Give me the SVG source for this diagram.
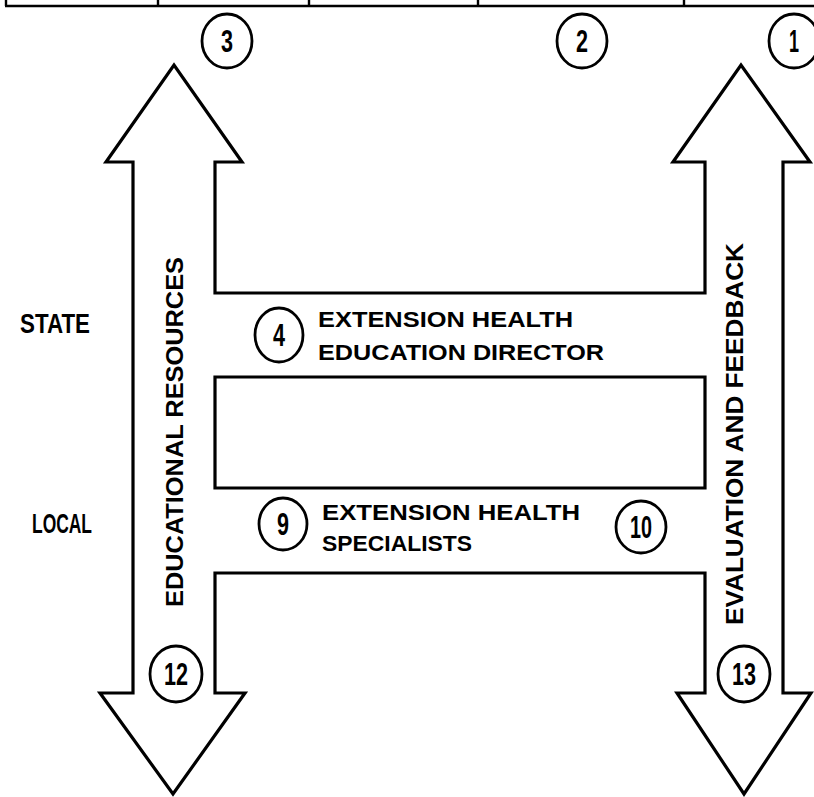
<svg xmlns="http://www.w3.org/2000/svg" width="814" height="797" viewBox="0 0 814 797">
<style>
.ln{fill:none;stroke:#000;stroke-width:3.2;stroke-linejoin:miter}
.top{fill:none;stroke:#000;stroke-width:2.4}
.cir{fill:none;stroke:#000;stroke-width:2.8}
.num{font-family:"Liberation Sans",Arial,sans-serif;font-weight:bold;font-size:31px;fill:#000;text-anchor:middle}
.lbl{font-family:"Liberation Sans",Arial,sans-serif;font-weight:bold;font-size:22px;fill:#000}
.big{font-family:"Liberation Sans",Arial,sans-serif;font-weight:bold;font-size:27px;fill:#000}
.vt{font-family:"Liberation Sans",Arial,sans-serif;font-weight:bold;font-size:24px;fill:#000}
</style>
<rect width="814" height="797" fill="#fff"/>
<g id="connectors">
<path class="top" d="M5,6 H814 M6,0 V6 M158,0 V6 M309,0 V6 M478,0 V6 M684,0 V6"/>
<path class="ln" d="M242,162 H215 V293 H705 V162 H673 L741,65 L810,162 H783 V693 H811 L744,794 L677,693 H705 V573 H215 V693 H245 L173,794 L100,693 H133 V162 H106 L174,65 Z"/>
<path class="ln" d="M215,377 H705 V488 H215 Z"/>
</g>
<g id="n1"><ellipse class="cir" cx="794" cy="41" rx="25" ry="27"/><text class="num" x="794" y="52" textLength="10" lengthAdjust="spacingAndGlyphs">1</text></g>
<g id="n2"><ellipse class="cir" cx="582" cy="41" rx="25" ry="27"/><text class="num" x="582" y="52" textLength="12" lengthAdjust="spacingAndGlyphs">2</text></g>
<g id="n3"><ellipse class="cir" cx="227" cy="41" rx="25" ry="27"/><text class="num" x="227" y="52" textLength="12" lengthAdjust="spacingAndGlyphs">3</text></g>
<g id="n4"><ellipse class="cir" cx="279" cy="335" rx="24" ry="27"/><text class="num" x="279" y="346" textLength="12" lengthAdjust="spacingAndGlyphs">4</text>
<text class="lbl" x="318" y="327" textLength="255" lengthAdjust="spacingAndGlyphs">EXTENSION HEALTH</text>
<text class="lbl" x="318" y="360" textLength="286" lengthAdjust="spacingAndGlyphs">EDUCATION DIRECTOR</text></g>
<g id="n9"><ellipse class="cir" cx="283" cy="524" rx="24" ry="26"/><text class="num" x="283" y="535" textLength="12" lengthAdjust="spacingAndGlyphs">9</text>
<text class="lbl" x="322" y="520" textLength="258" lengthAdjust="spacingAndGlyphs">EXTENSION HEALTH</text>
<text class="lbl" x="322" y="551" textLength="150" lengthAdjust="spacingAndGlyphs">SPECIALISTS</text></g>
<g id="n10"><ellipse class="cir" cx="641" cy="527" rx="25" ry="26"/><text class="num" x="641" y="538" textLength="22" lengthAdjust="spacingAndGlyphs">10</text></g>
<g id="n12"><ellipse class="cir" cx="176" cy="674" rx="26" ry="28"/><text class="num" x="176" y="685" textLength="24" lengthAdjust="spacingAndGlyphs">12</text></g>
<g id="n13"><ellipse class="cir" cx="744" cy="674" rx="26" ry="28"/><text class="num" x="744" y="685" textLength="24" lengthAdjust="spacingAndGlyphs">13</text></g>
<g id="state"><text class="big" x="20" y="333" textLength="70" lengthAdjust="spacingAndGlyphs">STATE</text></g>
<g id="local"><text class="big" x="32" y="533" textLength="60" lengthAdjust="spacingAndGlyphs">LOCAL</text></g>
<g id="edres"><text class="vt" transform="translate(183,607) rotate(-90)" textLength="350" lengthAdjust="spacingAndGlyphs">EDUCATIONAL RESOURCES</text></g>
<g id="evfb"><text class="vt" transform="translate(743,625) rotate(-90)" textLength="382" lengthAdjust="spacingAndGlyphs">EVALUATION AND FEEDBACK</text></g>
</svg>
